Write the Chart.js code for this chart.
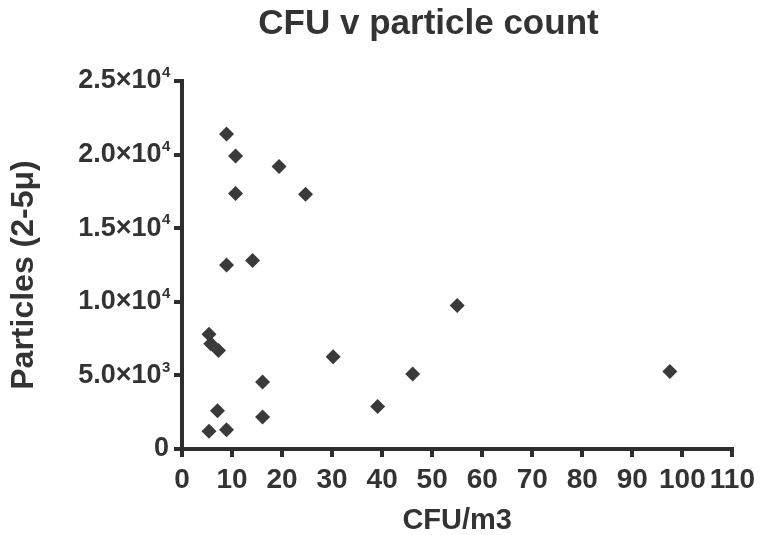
<!DOCTYPE html>
<html>
<head>
<meta charset="utf-8">
<script src="https://cdn.jsdelivr.net/npm/chart.js@4.4.1/dist/chart.umd.min.js"></script>
<style>
html,body{margin:0;padding:0;background:#ffffff;}
#wrap{width:761px;height:535px;}
</style>
</head>
<body>
<div id="wrap"><canvas id="c" width="761" height="535"></canvas></div>
<script>
// ---- data ----
const chartTitle = 'CFU v particle count';
const xAxisTitle = 'CFU/m3';
const yAxisTitle = 'Particles (2-5\u03bc)';

const cfuPerM3 = [8.9, 10.7, 19.4, 10.7, 24.7, 8.9, 14.1, 55.0, 5.4, 5.75,
                  7.3, 30.2, 97.5, 46.1, 16.1, 39.1, 7.1, 16.1, 5.4, 8.9];
const particles = [21400, 19900, 19200, 17350, 17300, 12500, 12800, 9750, 7800, 7150,
                   6700, 6270, 5270, 5090, 4560, 2880, 2600, 2180, 1200, 1300];

const xTickValues = [0, 10, 20, 30, 40, 50, 60, 70, 80, 90, 100, 110];
const yTickValues = [0, 5000, 10000, 15000, 20000, 25000];
const yTickMantissa = ['0', '5.0\u00d710', '1.0\u00d710', '1.5\u00d710', '2.0\u00d710', '2.5\u00d710'];
const yTickExponent = ['', '3', '4', '4', '4', '4'];

// ---- styling ----
const FONT = "'Liberation Sans', Arial, Helvetica, sans-serif";
const INK = '#2e2e2e';
const TEXT = '#333333';
const MARK = '#3a3a3a';
const Y_TICK_FONT = 27;
const Y_TICK_PAD = 5;

const points = cfuPerM3.map((x, i) => ({x: x, y: particles[i]}));

const titleShift = {
  id: 'titleShift',
  afterLayout(chart) {
    const tb = chart.titleBlock;
    if (tb) { tb.left += 57; tb.right += 57; }
  }
};

const extraText = {
  id: 'extraText',
  afterDraw(chart) {
    const ctx = chart.ctx;
    const ys = chart.scales.y;
    // exponents of the y tick labels (superscripts), placed in the trailing space
    ctx.save();
    ctx.font = 'bold ' + Y_TICK_FONT + 'px ' + FONT;
    const spaceW = ctx.measureText(' ').width;
    ctx.fillStyle = TEXT;
    ctx.textAlign = 'left';
    ctx.textBaseline = 'middle';
    ctx.font = 'bold 15px ' + FONT;
    const labelRight = ys.right - 8 - Y_TICK_PAD;
    yTickValues.forEach((v, i) => {
      if (!yTickExponent[i]) return;
      const yPix = ys.getPixelForValue(v);
      ctx.fillText(yTickExponent[i], labelRight - spaceW + 0.5, yPix - 8);
    });
    ctx.restore();
    // rotated y axis title
    ctx.save();
    ctx.translate(24, chart.chartArea.top + 194);
    ctx.rotate(-Math.PI / 2);
    ctx.font = 'bold 32px ' + FONT;
    ctx.fillStyle = TEXT;
    ctx.textAlign = 'center';
    ctx.textBaseline = 'middle';
    ctx.fillText(yAxisTitle, 0, 0);
    ctx.restore();
  }
};

new Chart(document.getElementById('c'), {
  type: 'scatter',
  data: {
    datasets: [{
      data: points,
      pointStyle: 'rectRot',
      pointRadius: 7.5,
      pointHoverRadius: 7.5,
      backgroundColor: MARK,
      borderColor: MARK,
      borderWidth: 0
    }]
  },
  options: {
    responsive: false,
    devicePixelRatio: 1,
    animation: false,
    events: [],
    layout: { padding: { left: 6, right: 24, top: 0, bottom: 0 } },
    plugins: {
      legend: { display: false },
      tooltip: { enabled: false },
      title: {
        display: true,
        text: chartTitle,
        color: TEXT,
        font: { family: FONT, size: 35, weight: 'bold', lineHeight: 1.2 },
        padding: { top: 3, bottom: 36 }
      }
    },
    scales: {
      x: {
        type: 'linear',
        min: 0,
        max: 110,
        afterBuildTicks(scale) { scale.ticks = xTickValues.map(v => ({value: v})); },
        afterFit(scale) { scale.height = 86; },
        ticks: {
          color: TEXT,
          font: { family: FONT, size: 28, weight: 'bold' },
          padding: 6,
          maxRotation: 0,
          autoSkip: false
        },
        grid: { display: true, drawOnChartArea: false, drawTicks: true, tickLength: 8, color: INK, lineWidth: 4 },
        border: { display: true, color: INK, width: 4 },
        title: {
          display: true,
          text: xAxisTitle,
          color: TEXT,
          font: { family: FONT, size: 29, weight: 'bold', lineHeight: 1 },
          padding: { top: 0, bottom: 0 }
        }
      },
      y: {
        type: 'linear',
        min: 0,
        max: 25000,
        afterBuildTicks(scale) { scale.ticks = yTickValues.map(v => ({value: v})); },
        afterFit(scale) { scale.width = 176; },
        ticks: {
          color: TEXT,
          font: { family: FONT, size: Y_TICK_FONT, weight: 'bold' },
          padding: Y_TICK_PAD,
          autoSkip: false,
          callback: (v) => {
            const i = yTickValues.indexOf(v);
            if (i < 0) return '';
            return yTickExponent[i] ? yTickMantissa[i] + ' ' : yTickMantissa[i];
          }
        },
        grid: { display: true, drawOnChartArea: false, drawTicks: true, tickLength: 8, color: INK, lineWidth: 4 },
        border: { display: true, color: INK, width: 4 }
      }
    }
  },
  plugins: [titleShift, extraText]
});
</script>
</body>
</html>
